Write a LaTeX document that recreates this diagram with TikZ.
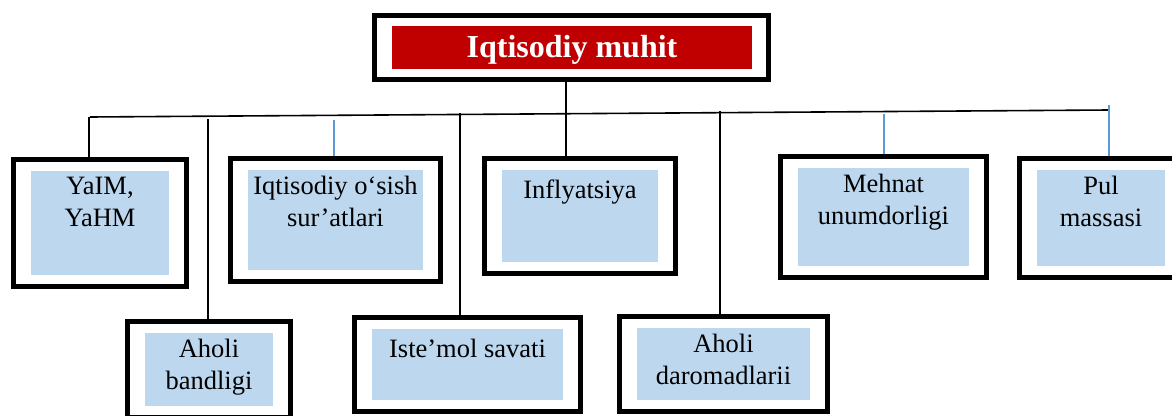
\documentclass[tikz,border=0pt]{standalone}
\usepackage{fontspec}
\setmainfont{Liberation Serif}
\definecolor{boxblue}{HTML}{BDD7EE}
\definecolor{linkblue}{HTML}{5B9BD5}
\definecolor{titlered}{HTML}{C00000}
\newcommand\panel[6]{%
\node[frame,minimum width=#4-#2-5,minimum height=#5-#3-5](#1)at({(#2+#4)/2},{(#3+#5)/2}){};
\fill[boxblue](#2+20,#3+14)rectangle(#4-20,#5-14);
\node[box text](#1-t)at({(#2+#4)/2},#3+20){#6};}

\begin{document}
\begin{tikzpicture}[x=1pt,y=-1pt,font=\fontsize{26.5}{32}\selectfont]
% Styles for frames, box texts and connectors
\tikzstyle{frame}=[draw,line width=5pt,inner sep=0];
\tikzstyle{box text}=[anchor=north,align=center,inner sep=0,execute at begin node=\strut];
\tikzstyle{conn}=[line width=1.3pt];
\useasboundingbox(0,0)rectangle(1172,415);
% Title
\node[frame,minimum width=394,minimum height=64](title)at(571.5,47.5){};
\fill[titlered](392,26)rectangle(752,69);
\node[anchor=base,inner sep=0,text=white,font=\fontsize{32}{38}\selectfont\bfseries](title-t)at(572,57){Iqtisodiy muhit};
% Upper row
\panel{yaim}{11}{157}{189}{289}{YaIM,\\YaHM}
\panel{osish}{228}{156}{443}{284}{Iqtisodiy o‘sish\\sur’atlari}
\panel{infl}{482}{156}{678}{276}{Inflyatsiya}
\panel{mehnat}{778}{154}{989}{280}{Mehnat\\unumdorligi}
\panel{pul}{1017}{156}{1185}{280}{Pul\\massasi}
% Lower row
\panel{band}{125}{319}{293}{420}{Aholi\\bandligi}
\panel{istemol}{352}{315}{583}{414}{Iste’mol savati}
\panel{daromad}{617}{314}{830}{414}{Aholi\\daromadlarii}
% Connectors
\coordinate(bus-l)at(90,117);
\coordinate(bus-r)at(1109,110);
\draw[line width=1.6pt](bus-l)--(bus-r);
\draw[conn]([xshift=-5.5pt]title.south)--([xshift=-5.5pt]title.south|-infl.north);
\foreach \n/\x/\y/\c in {yaim/89/117/black,band/208/119/black,osish/334/120/linkblue,
istemol/460/113/black,daromad/720/111/black,mehnat/884/114/linkblue,pul/1109/105/linkblue}{
\coordinate(\n-top)at(\x,\y);
\draw[conn,\c](\n-top)--(\n-top|-\n.north);}
\end{tikzpicture}
\end{document}
